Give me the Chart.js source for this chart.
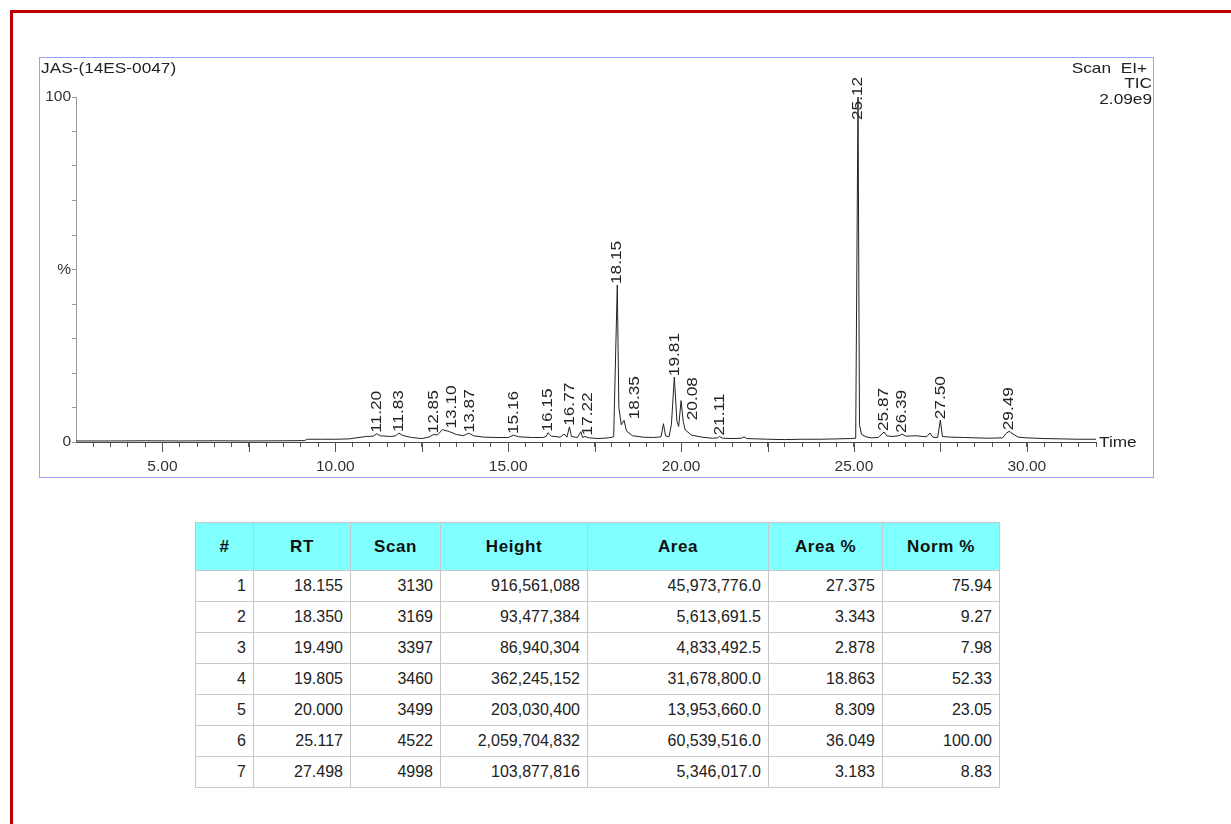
<!DOCTYPE html>
<html>
<head>
<meta charset="utf-8">
<script src="https://cdn.jsdelivr.net/npm/chart.js@4"></script>
<style>
body{margin:0;width:1231px;height:824px;overflow:hidden;background:#fff;position:relative;font-family:"Liberation Sans",Arial,sans-serif;color:#222}
#frame{position:absolute;left:10px;top:10px;width:1300px;height:900px;border:3px solid #c00000}
#box{position:absolute;left:39px;top:57px;width:1113px;height:419px;border:1px solid #9a9eff}
#tic{display:block}
#peaks{position:absolute;left:195px;top:522px;border-collapse:collapse;table-layout:fixed;width:805px}
#peaks th,#peaks td{border:1px solid #c8c8c8;padding:0}
#peaks th{background:#80ffff;height:47px;font-weight:bold;font-size:17px;letter-spacing:0.6px;color:#111;text-align:center}
#peaks td{height:30px;font-size:16px;text-align:right;padding-right:7px;color:#222}
</style>
</head>
<body>
<div id="frame"></div>
<div id="box"><canvas id="tic" width="1113" height="419"></canvas></div>
<table id="peaks">
  <colgroup><col style="width:58px"><col style="width:97px"><col style="width:90px"><col style="width:147px"><col style="width:181px"><col style="width:114px"><col style="width:117px"></colgroup>
  <thead><tr id="head"></tr></thead>
  <tbody id="rows"></tbody>
</table>
<script>
// chromatogram trace (retention time in min, intensity in % of 2.09e9)
const traceTime = [2.5, 3.5, 4.5, 5.5, 6.5, 7.5, 8.5, 9.1, 9.2, 9.6, 10.0, 10.4, 10.6, 10.9, 11.1, 11.2, 11.3, 11.6, 11.75, 11.83, 11.95,
  12.2, 12.5, 12.7, 12.85, 12.95, 13.1, 13.3, 13.5, 13.7, 13.8, 13.87, 14.0, 14.3, 14.7, 15.0, 15.16, 15.3, 15.7, 16.0, 16.1, 16.15, 16.25,
  16.5, 16.62, 16.7, 16.77, 16.83, 17.0, 17.1, 17.15, 17.22, 17.35, 17.6, 17.9, 18.05, 18.155, 18.2, 18.27, 18.35, 18.42, 18.6, 18.9,
  19.2, 19.42, 19.49, 19.55, 19.65, 19.72, 19.805, 19.88, 19.93, 20.0, 20.06, 20.12, 20.3, 20.6, 20.9, 21.05, 21.11, 21.2, 21.5, 21.75,
  21.82, 21.9, 22.5, 23.0, 23.5, 24.0, 24.5, 24.9, 25.05, 25.117, 25.16, 25.22, 25.35, 25.5, 25.7, 25.87, 25.95, 26.1, 26.3, 26.39, 26.5,
  26.8, 27.1, 27.2, 27.28, 27.42, 27.498, 27.56, 27.8, 28.2, 28.5, 28.9, 29.3, 29.4, 29.49, 29.6, 29.75, 30.0, 30.5, 31.0, 31.5, 32.0];
const traceIntensity = [0.3, 0.3, 0.35, 0.3, 0.35, 0.3, 0.35, 0.4, 0.8, 0.8, 0.8, 0.9, 1.2, 1.6, 1.7, 2.4, 1.8, 1.6, 1.8, 2.6, 1.9,
  1.3, 1.0, 1.4, 2.2, 2.0, 3.6, 3.0, 2.2, 1.8, 2.3, 2.5, 1.8, 1.4, 1.3, 1.3, 2.0, 1.5, 1.3, 1.3, 1.6, 2.7, 1.7,
  1.4, 2.3, 1.4, 4.4, 1.6, 1.3, 3.0, 1.3, 1.6, 1.2, 1.0, 1.2, 1.5, 45.5, 10, 5.0, 6.3, 3.2, 1.8, 1.4,
  1.3, 1.5, 5.3, 1.8, 1.5, 5.0, 18.8, 6.0, 4.5, 12, 6.0, 3.5, 2.0, 1.4, 1.1, 1.2, 1.6, 1.1, 1.0, 1.1,
  1.5, 1.0, 0.8, 0.7, 0.8, 0.8, 0.9, 1.0, 1.1, 100, 5.0, 2.2, 1.5, 1.2, 1.3, 2.9, 1.8, 1.6, 1.8, 2.3, 1.7,
  1.8, 1.5, 2.6, 1.4, 1.3, 6.3, 1.6, 1.4, 1.3, 1.2, 1.1, 1.2, 2.5, 3.1, 2.3, 1.4, 1.2, 1.0, 0.9, 0.8, 0.8];
const peakRT = [11.20, 11.83, 12.85, 13.10, 13.87, 15.16, 16.15, 16.77, 17.22, 18.15, 18.35, 19.81, 20.08, 21.11, 25.12, 25.87, 26.39, 27.50, 29.49];
const yTickText = {0: '0', 50: '%', 100: '100'};
const sampleName = 'JAS-(14ES-0047)';
const scanInfo = ['Scan  EI+', 'TIC', '2.09e9'];

// peak table
const colNames = ['#', 'RT', 'Scan', 'Height', 'Area', 'Area %', 'Norm %'];
const tableNo = [1, 2, 3, 4, 5, 6, 7];
const tableRT = [18.155, 18.350, 19.490, 19.805, 20.000, 25.117, 27.498];
const tableScan = [3130, 3169, 3397, 3460, 3499, 4522, 4998];
const tableHeight = [916561088, 93477384, 86940304, 362245152, 203030400, 2059704832, 103877816];
const tableArea = [45973776.0, 5613691.5, 4833492.5, 31678800.0, 13953660.0, 60539516.0, 5346017.0];
const tableAreaPct = [27.375, 3.343, 2.878, 18.863, 8.309, 36.049, 3.183];
const tableNormPct = [75.94, 9.27, 7.98, 52.33, 23.05, 100.00, 8.83];

document.getElementById('head').innerHTML = colNames.map(c => '<th>' + c + '</th>').join('');
const fmtInt = v => v.toLocaleString('en-US');
const fmtArea = v => v.toLocaleString('en-US', {minimumFractionDigits: 1, maximumFractionDigits: 1});
document.getElementById('rows').innerHTML = tableNo.map((n, i) =>
  '<tr><td>' + n + '</td><td>' + tableRT[i].toFixed(3) + '</td><td>' + tableScan[i] + '</td><td>' + fmtInt(tableHeight[i]) +
  '</td><td>' + fmtArea(tableArea[i]) + '</td><td>' + tableAreaPct[i].toFixed(3) + '</td><td>' + tableNormPct[i].toFixed(2) + '</td></tr>'
).join('');

const FONT = '"Liberation Sans", Arial, sans-serif';

function wideText(ctx, text, x, y, align, angle) {
  ctx.save();
  ctx.translate(x, y);
  if (angle) ctx.rotate(angle);
  ctx.scale(1.15, 1);
  ctx.textAlign = align;
  ctx.textBaseline = 'middle';
  ctx.fillText(text, 0, 0);
  ctx.restore();
}

function apexAt(rt) {
  let best = 0;
  traceTime.forEach((t, i) => { if (Math.abs(t - rt) <= 0.06) best = Math.max(best, traceIntensity[i]); });
  return best;
}

const annotate = {
  id: 'annotate',
  afterDatasetsDraw(chart) {
    const {ctx, chartArea, scales: {x, y}} = chart;
    ctx.save();
    // longer ticks every 2.5 min
    ctx.strokeStyle = '#555';
    ctx.lineWidth = 1;
    for (let v = 5; v <= 30; v += 2.5) {
      const px = Math.round(x.getPixelForValue(v)) + 0.5;
      ctx.beginPath();
      ctx.moveTo(px, chartArea.bottom);
      ctx.lineTo(px, chartArea.bottom + 10);
      ctx.stroke();
    }
    ctx.fillStyle = '#222';
    ctx.font = '15px ' + FONT;
    wideText(ctx, sampleName, 1, 11, 'left');
    wideText(ctx, scanInfo[0], 1107, 11, 'right');
    wideText(ctx, scanInfo[1], 1112, 26, 'right');
    wideText(ctx, scanInfo[2], 1112, 42, 'right');
    wideText(ctx, 'Time', chartArea.right + 3, chartArea.bottom + 1, 'left');
    // peak labels
    let prev = -100;
    peakRT.forEach(rt => {
      let px = x.getPixelForValue(rt);
      if (px < prev + 18) px = prev + 18;
      prev = px;
      const py = Math.max(y.getPixelForValue(apexAt(rt)) - 1, 62);
      wideText(ctx, rt.toFixed(2), px, py, 'left', -Math.PI / 2);
    });
    ctx.restore();
  }
};

new Chart(document.getElementById('tic'), {
  type: 'line',
  data: {
    datasets: [{
      data: traceTime.map((t, i) => ({x: t, y: traceIntensity[i]})),
      borderColor: '#222',
      borderWidth: 1,
      pointRadius: 0,
      tension: 0,
      fill: false
    }]
  },
  options: {
    responsive: false,
    animation: false,
    layout: {padding: {top: 39, right: 57, bottom: 0, left: 0}},
    plugins: {legend: {display: false}, tooltip: {enabled: false}, title: {display: false}},
    scales: {
      x: {
        type: 'linear',
        min: 2.5,
        max: 32,
        ticks: {
          stepSize: 0.5,
          autoSkip: false,
          maxRotation: 0,
          padding: 10,
          color: '#333',
          font: {family: FONT, size: 15.5},
          callback: v => (v % 5 === 0 ? v.toFixed(2) : '')
        },
        grid: {
          drawOnChartArea: false,
          tickLength: 5,
          tickColor: c => (c.tick && c.tick.value === 2.5 ? 'rgba(0,0,0,0)' : '#555')
        },
        border: {display: true, color: '#444'},
        afterFit(s) { s.height = 35; }
      },
      y: {
        min: 0,
        max: 100,
        ticks: {
          stepSize: 10,
          padding: 1,
          color: '#333',
          font: {family: FONT, size: 15.5},
          callback: v => (yTickText[v] !== undefined ? yTickText[v] : '')
        },
        grid: {drawOnChartArea: false, tickLength: 4, tickColor: '#999'},
        border: {display: true, color: '#999'},
        afterFit(s) { s.width = 36; }
      }
    }
  },
  plugins: [annotate]
});
</script>
</body>
</html>
